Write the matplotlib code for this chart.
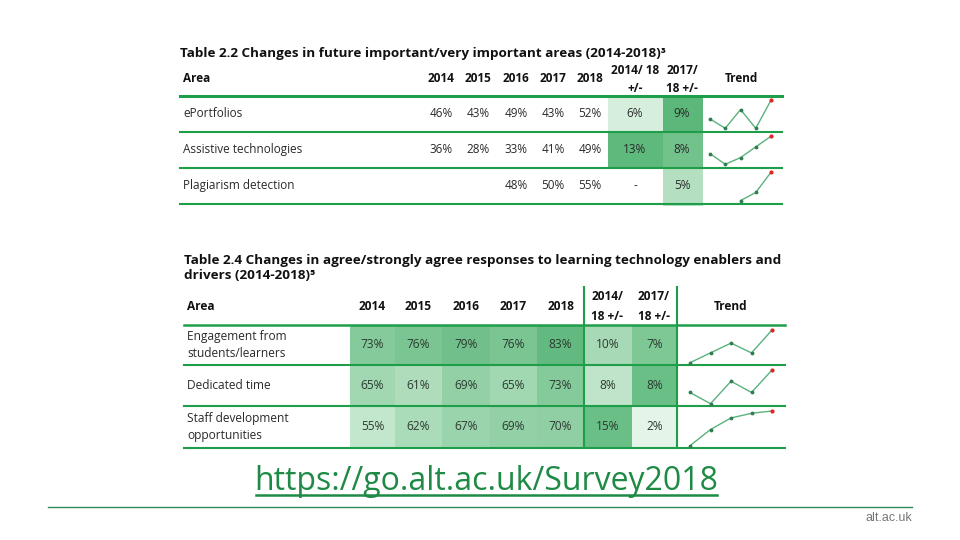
"""
Slide: two survey tables with shaded change columns and trend sparklines.
"""
import matplotlib
matplotlib.use("Agg")
import matplotlib.pyplot as plt
from matplotlib.colors import LinearSegmentedColormap, Normalize
from matplotlib.patches import Rectangle

FONT = ["Open Sans", "DejaVu Sans"]
plt.rcParams["font.family"] = FONT

# ---- data -------------------------------------------------------------
years = [2014, 2015, 2016, 2017, 2018]

t1_title = "Table 2.2 Changes in future important/very important areas (2014-2018)\u00b3"
t1_areas = ["ePortfolios", "Assistive technologies", "Plagiarism detection"]
t1_values = [
    [46, 43, 49, 43, 52],
    [36, 28, 33, 41, 49],
    [None, None, 48, 50, 55],
]
t1_change_1418 = [6, 13, None]
t1_change_1718 = [9, 8, 5]

t2_title = ("Table 2.4 Changes in agree/strongly agree responses to learning technology enablers and\n"
            "drivers (2014-2018)\u2075")
t2_areas = ["Engagement from\nstudents/learners", "Dedicated time",
            "Staff development\nopportunities"]
t2_values = [
    [73, 76, 79, 76, 83],
    [65, 61, 69, 65, 73],
    [55, 62, 67, 69, 70],
]
t2_change_1418 = [10, 8, 15]
t2_change_1718 = [7, 8, 2]

url = "https://go.alt.ac.uk/Survey2018"
site = "alt.ac.uk"

# ---- style ------------------------------------------------------------
LINE = "#1f9e4a"
TEXT = "#2a2a2a"
SPARK = "#5ab27c"
SPARK_DOT = "#2f7d50"
LAST_DOT = "#e02424"


def shader(light, dark, vals):
    cmap = LinearSegmentedColormap.from_list("g", [light, dark])
    vals = [v for v in vals if v is not None]
    norm = Normalize(min(vals), max(vals))
    return lambda v: cmap(norm(v))


def pct(v):
    return "-" if v is None else f"{v}%"


def sparkline(fig, vals, x0, x1, y0, y1):
    # y0 = top pixel, y1 = bottom pixel of the plotting box
    sax = fig.add_axes([x0 / 960, 1 - y1 / 540, (x1 - x0) / 960, (y1 - y0) / 540])
    pts = [(yr, v) for yr, v in zip(years, vals) if v is not None]
    xs = [p[0] for p in pts]
    ys = [p[1] for p in pts]
    sax.plot(xs, ys, color=SPARK, lw=1.0, clip_on=False)
    sax.scatter(xs[:-1], ys[:-1], s=3, color=SPARK_DOT, zorder=3, clip_on=False)
    sax.scatter(xs[-1:], ys[-1:], s=4, color=LAST_DOT, zorder=3, clip_on=False)
    sax.set_xlim(years[0], years[-1])
    sax.set_ylim(min(ys), max(ys))
    sax.axis("off")


fig = plt.figure(figsize=(9.6, 5.4), dpi=100)
ax = fig.add_axes([0, 0, 1, 1])
ax.set_xlim(0, 960)
ax.set_ylim(540, 0)
ax.axis("off")

# ---- table 2.2 --------------------------------------------------------
ax.text(180, 53, t1_title, fontsize=9.7, fontweight="bold", color="#111",
        va="center", ha="left")
t1_cols = [441, 478, 516, 553, 590]
t1_rows = [(95.7, 131.7), (131.7, 167.7), (167.7, 204)]
hb = dict(fontsize=8.5, fontweight="bold", color="#111", va="center", ha="center")
ax.text(183, 79, "Area", **{**hb, "ha": "left"})
for x, yr in zip(t1_cols, years):
    ax.text(x, 79, str(yr), **hb)
ax.text(635, 71, "2014/ 18", **hb)
ax.text(635, 89, "+/-", **hb)
ax.text(682, 71, "2017/", **hb)
ax.text(682, 89, "18 +/-", **hb)
ax.text(741, 79, "Trend", **hb)

sh_a = shader("#d6efdd", "#5eb97c", t1_change_1418)
sh_b = shader("#b4e0c1", "#5cb87a", t1_change_1718)
body = dict(fontsize=8.5, color=TEXT, va="center")
for i, (top, bot) in enumerate(t1_rows):
    yc = (top + bot) / 2
    if t1_change_1418[i] is not None:
        ax.add_patch(Rectangle((608, top), 55, bot - top, color=sh_a(t1_change_1418[i]), lw=0))
    ax.add_patch(Rectangle((663, top), 40, bot - top + (2 if i == 2 else 0),
                           color=sh_b(t1_change_1718[i]), lw=0))
    ax.text(183, yc, t1_areas[i], ha="left", **body)
    for x, v in zip(t1_cols, t1_values[i]):
        if v is not None:
            ax.text(x, yc, pct(v), ha="center", **body)
    ax.text(635, yc, pct(t1_change_1418[i]), ha="center", **body)
    ax.text(682, yc, pct(t1_change_1718[i]), ha="center", **body)
    sparkline(fig, t1_values[i], 710, 771, top + 4.5, bot - 3.4)

ax.plot([180, 782], [95.7, 95.7], color=LINE, lw=2.2)
for top, bot in t1_rows:
    ax.plot([180, 782], [bot, bot], color=LINE, lw=1.5)

# ---- table 2.4 --------------------------------------------------------
ax.text(184, 268, t2_title, fontsize=9.7, fontweight="bold", color="#111",
        va="center", ha="left", linespacing=1.25)
t2_edges = [350, 395, 441.7, 490, 536.7, 584.3, 631.7, 677.3, 785]
t2_rows = [(325, 365), (365, 406), (406, 448)]
hb2 = {**hb, "fontsize": 8.6}
ax.text(187, 306.7, "Area", **{**hb2, "ha": "left"})
for j, yr in enumerate(years):
    ax.text((t2_edges[j] + t2_edges[j + 1]) / 2, 306.7, str(yr), **hb2)
ax.text(607, 296, "2014/", **hb2)
ax.text(607, 316, "18 +/-", **hb2)
ax.text(654, 296, "2017/", **hb2)
ax.text(654, 316, "18 +/-", **hb2)
ax.text(731, 306.7, "Trend", **hb2)

all_years = [v for row in t2_values for v in row]
sh_y = shader("#c3e7cc", "#63ba80", all_years)
sh_c = shader("#bfe4c9", "#6abf86", t2_change_1418)
sh_d = shader("#e4f4e8", "#6abf86", t2_change_1718)
body2 = dict(fontsize=8.6, color=TEXT, va="center")
for i, (top, bot) in enumerate(t2_rows):
    yc = (top + bot) / 2
    cells = [(v, sh_y(v)) for v in t2_values[i]]
    cells += [(t2_change_1418[i], sh_c(t2_change_1418[i])),
              (t2_change_1718[i], sh_d(t2_change_1718[i]))]
    for j, (v, col) in enumerate(cells):
        x0, x1 = t2_edges[j], t2_edges[j + 1]
        ax.add_patch(Rectangle((x0, top), x1 - x0, bot - top, color=col, lw=0))
        ax.text((x0 + x1) / 2, yc, pct(v), ha="center", **{**body2, "color": "#2b3a30"})
    ax.text(187, yc, t2_areas[i], ha="left", linespacing=1.35, **body2)
    sparkline(fig, t2_values[i], 690, 772, top + 5, bot - 2.3)

ax.plot([184, 785], [325, 325], color=LINE, lw=1.8)
for top, bot in t2_rows:
    ax.plot([184, 785], [bot, bot], color=LINE, lw=1.5)
for x in (584.3, 677.3):
    ax.plot([x, x], [286.7, 448], color=LINE, lw=1.5)

# ---- footer -----------------------------------------------------------
ax.text(486, 490, url, fontsize=23, color="#1e8a45", ha="center", va="baseline")
ax.plot([256, 717], [494.5, 494.5], color="#1e8a45", lw=1.8)
ax.plot([48, 912], [506.7, 506.7], color="#2e8b57", lw=1.0)
ax.text(912, 518, site, fontsize=9, color="#777777", ha="right", va="center",
        family=["Liberation Sans", "DejaVu Sans"])

fig.savefig("out.png", dpi=100)
